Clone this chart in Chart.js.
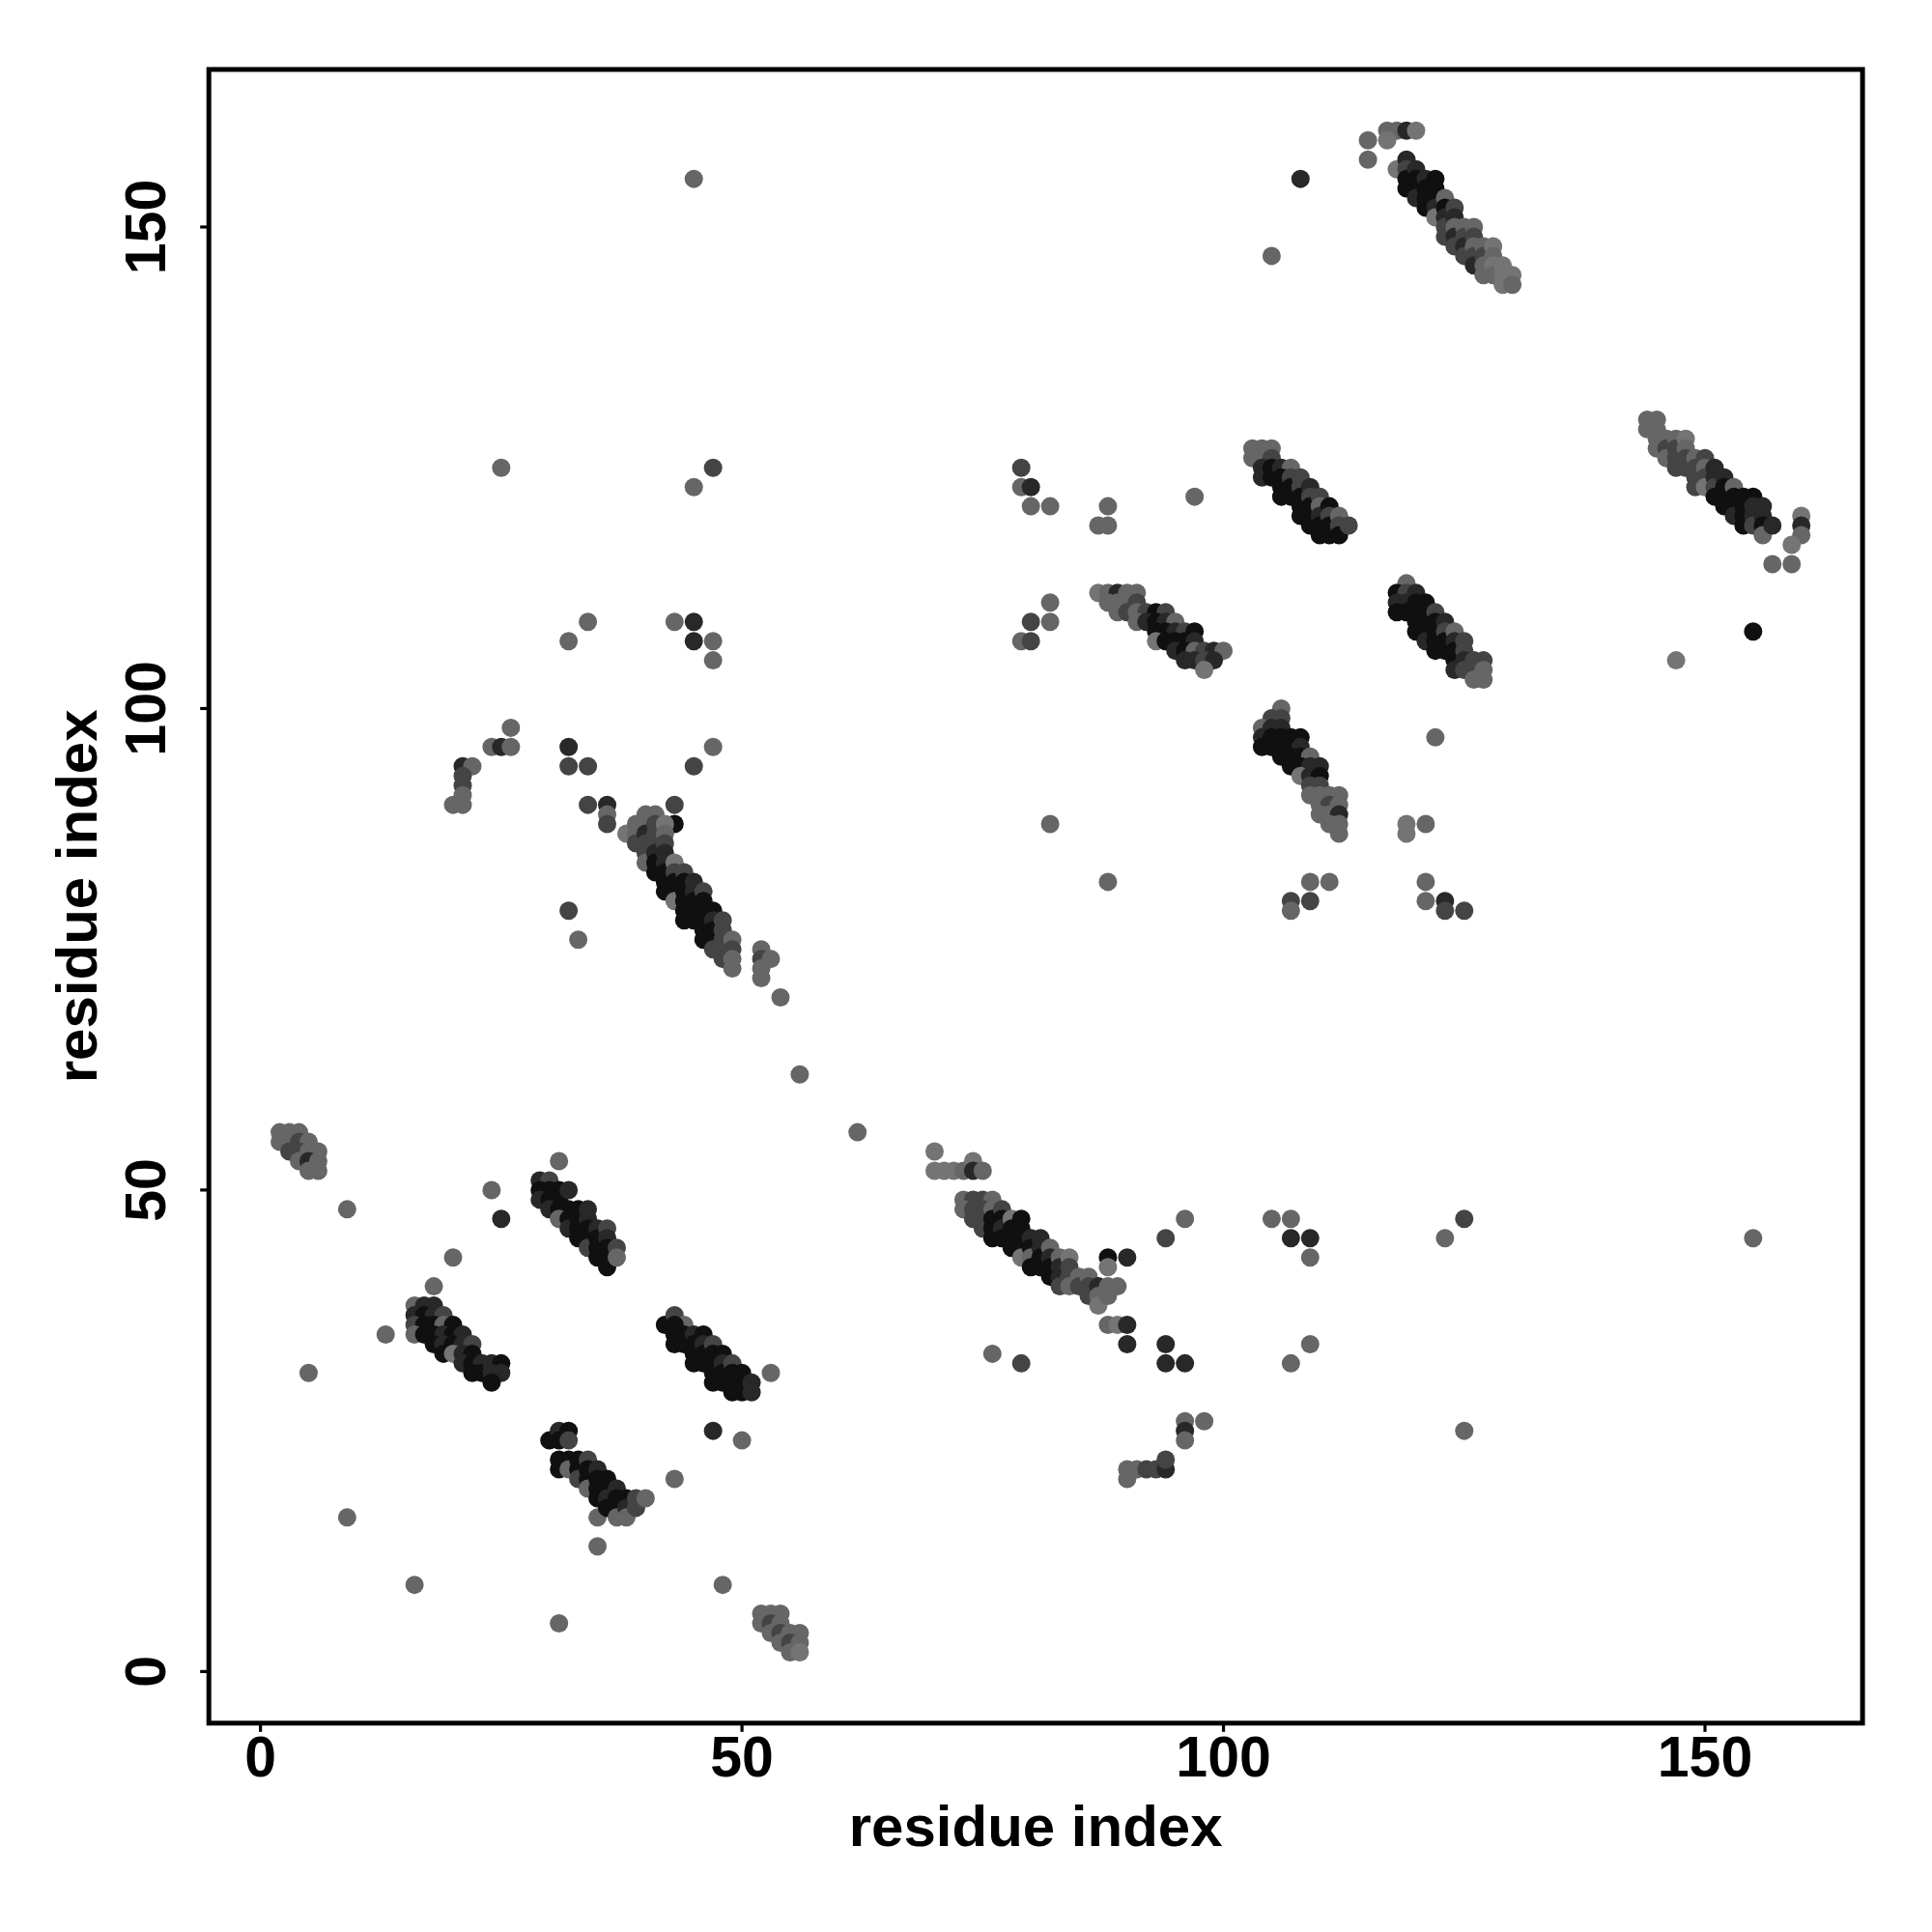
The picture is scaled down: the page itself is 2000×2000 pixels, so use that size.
<!DOCTYPE html>
<html>
<head>
<meta charset="utf-8">
<script src="https://cdn.jsdelivr.net/npm/chart.js@4.4.1/dist/chart.umd.min.js"></script>
<style>
  html, body { margin: 0; padding: 0; background: #fff; }
  #wrap { width: 2000px; height: 2000px; }
</style>
</head>
<body>
<div id="wrap"><canvas id="contact-map" width="2000" height="2000"></canvas></div>
<script>
// contacts as [residue i, residue j, shade]; shade 0 = darkest .. 4 = lightest grey

const bandTop = [
  [115,159,3],[115,157,3],[117,160,3],[118,160,3],[119,160,1],[120,160,4],[117,159,4],
  [118,156,4],[119,157,1],[119,156,2],[119,155,0],[119,154,0],
  [120,156,1],[120,155,0],[120,154,0],[120,153,1],
  [121,155,1],[121,154,0],[121,153,0],[121,152,0],
  [122,155,0],[122,154,0],[122,153,0],[122,152,1],[122,151,4],
  [123,153,3],[123,152,0],[123,151,1],[123,150,2],[123,149,2],
  [124,152,2],[124,151,1],[124,150,3],[124,149,1],[124,148,2],
  [125,150,3],[125,149,2],[125,148,1],[125,147,2],
  [126,150,3],[126,149,2],[126,148,3],[126,147,2],[126,146,1],
  [127,148,3],[127,147,2],[127,146,3],[127,145,3],
  [128,148,4],[128,147,3],[128,146,4],[128,145,3],
  [129,146,4],[129,145,4],[129,144,4],
  [130,145,4],[130,144,3]
];

const sparseTop = [[108,155,1],[105,147,3],[45,155,3]];

const bandRight = [
  [144,130,3],[144,129,3],[145,130,3],[145,129,3],[145,128,3],[145,127,3],
  [146,128,3],[146,127,2],[146,126,3],
  [147,128,3],[147,127,2],[147,126,2],[147,125,2],
  [148,128,4],[148,127,3],[148,126,2],[148,125,2],
  [149,126,3],[149,125,2],[149,124,2],[149,123,2],
  [150,126,2],[150,125,3],[150,124,2],[150,123,4],
  [151,125,1],[151,124,1],[151,123,2],[151,122,0],
  [152,124,1],[152,123,0],[152,122,0],[152,121,0],
  [153,123,3],[153,122,0],[153,121,0],[153,120,1],
  [154,122,0],[154,121,0],[154,120,0],[154,119,0],
  [155,122,0],[155,121,1],[155,120,1],[155,119,2],
  [156,121,1],[156,120,1],[156,119,0],[156,118,3],
  [157,119,1],
  [160,120,4],[160,119,1],[160,118,3],[159,117,4],[157,115,3],[159,115,3],
  [155,108,0],[147,105,4]
];

const bandUpperMid = [
  [103,127,3],[104,127,3],[105,127,3],[103,126,3],[104,126,3],[105,126,2],
  [104,125,1],[104,124,1],[105,125,0],[105,124,0],
  [106,125,1],[107,125,3],[106,124,0],[106,123,0],[106,122,0],[107,124,2],[107,123,0],[107,122,0],
  [108,124,2],[108,123,2],[108,122,0],[108,121,0],[108,120,0],
  [109,123,1],[109,122,2],[109,121,0],[109,120,0],[109,119,0],
  [110,122,2],[110,121,3],[110,120,1],[110,119,0],[110,118,0],
  [111,121,0],[111,120,2],[111,119,0],[111,118,0],
  [112,120,3],[112,119,2],[112,118,0],
  [113,119,2],
  [79,125,2],[79,123,3],[80,123,1],[80,121,3],[82,121,3],[88,121,3],[87,119,3],[88,119,3],[97,122,3]
];

const bandMid = [
  [87,112,4],[88,112,3],[89,112,1],[90,112,3],[91,112,3],
  [88,111,3],[89,111,3],[90,111,3],[91,111,2],
  [89,110,3],[90,110,2],[91,110,3],[92,110,2],[93,110,0],[94,110,2],
  [91,109,3],[92,109,1],[93,109,0],[94,109,1],[95,109,3],
  [93,108,0],[94,108,0],[95,108,1],[96,108,2],[97,108,0],
  [93,107,4],[94,107,0],[95,107,0],[96,107,0],[97,107,1],
  [95,106,1],[96,106,0],[97,106,3],[98,106,2],[99,106,1],[100,106,3],
  [96,105,1],[97,105,1],[98,105,2],[99,105,1],
  [98,104,4],
  [82,111,3],[80,109,2],[82,109,3],[79,107,3],[80,107,2]
];

const bandMidRight = [
  [119,113,3],[118,112,0],[119,112,2],[118,111,1],[119,111,1],[118,110,0],[119,110,0],
  [120,112,1],[120,111,0],[120,110,0],[120,109,0],[120,108,0],
  [121,111,0],[121,110,0],[121,109,0],[121,108,0],[121,107,1],
  [122,110,2],[122,109,0],[122,108,0],[122,107,0],[122,106,0],
  [123,109,1],[123,108,2],[123,107,0],[123,106,0],
  [124,108,3],[124,107,1],[124,106,0],[124,105,0],[124,104,1],
  [125,107,2],[125,106,2],[125,105,1],[125,104,2],
  [126,105,2],[126,104,2],[126,103,3],
  [127,105,2],[127,104,3],[127,103,3],
  [122,97,3]
];

const bandSteep = [
  [106,100,3],[105,99,2],[106,99,2],[104,98,3],[105,98,1],[106,98,1],
  [104,97,1],[105,97,0],[106,97,0],[107,97,0],[108,97,0],
  [104,96,0],[105,96,0],[106,96,0],[107,96,0],[108,96,1],
  [106,95,0],[107,95,0],[108,95,0],[109,95,3],
  [107,94,0],[108,94,0],[109,94,1],[110,94,1],
  [108,93,4],[109,93,1],[110,93,0],
  [109,92,2],[110,92,2],[109,91,3],[110,91,3],[111,91,3],[112,91,3],
  [110,90,3],[111,90,2],[112,90,3],
  [110,89,3],[111,89,3],[112,89,1],
  [111,88,3],[112,88,3],[112,87,3],
  [119,88,4],[119,87,4],[121,88,3],[109,82,3],[111,82,3],[107,80,2],[109,80,2],[107,79,3],
  [121,82,3],[121,80,3],[123,80,1],[123,79,2],[125,79,2],[82,88,3],[88,82,3]
];

const sparseLeft = [
  [25,125,3],[47,125,2],[45,123,3],
  [34,109,3],[32,107,3],[43,109,3],[45,109,1],[45,107,1],[47,107,3],[47,105,3],
  [26,98,3],[24,96,3],[25,96,1],[26,96,3],[21,94,1],[22,94,3],[21,93,2],[21,92,2],[21,91,3],[20,90,3],[21,90,3],
  [32,96,1],[32,94,2],[34,94,2],[47,96,3],[45,94,2],
  [34,90,2],[36,90,1],[36,89,3],[36,88,2],[43,90,2],[43,88,0],
  [32,79,2],[33,76,3],
  [52,75,3],[52,74,2],[53,74,3],[52,73,3],[52,72,3],[54,70,3],[56,62,3],[62,56,3]
];

const bandLeft = [
  [38,87,4],
  [39,88,3],[39,87,3],[39,86,2],
  [40,89,3],[40,88,3],[40,87,1],[40,86,2],[40,85,2],[40,84,3],
  [41,89,3],[41,88,2],[41,87,2],[41,86,2],[41,85,1],[41,84,0],[41,83,0],
  [42,88,4],[42,87,3],[42,86,2],[42,85,1],[42,84,1],[42,83,0],[42,82,0],[42,81,0],
  [43,84,4],[43,83,2],[43,82,0],[43,81,0],[43,80,4],
  [44,83,2],[44,82,0],[44,81,0],[44,80,0],[44,79,0],[44,78,0],
  [45,82,1],[45,81,1],[45,80,0],[45,79,0],[45,78,0],
  [46,81,2],[46,80,0],[46,79,0],[46,78,0],[46,77,0],[46,76,0],
  [47,79,0],[47,78,1],[47,77,0],[47,76,0],[47,75,2],
  [48,78,2],[48,77,2],[48,76,2],[48,75,2],[48,74,2],
  [49,76,3],[49,75,2],[49,74,3],[49,73,3]
];

const cornerLow = [
  [2,56,3],[3,56,3],[4,56,3],[2,55,3],[3,55,3],[4,55,2],[5,55,3],[3,54,2],[4,54,2],[5,54,3],[6,54,3],
  [4,53,3],[5,53,1],[6,53,3],[5,52,3],[6,52,3],
  [9,48,3],[5,31,3],[24,50,3],[25,47,1],[20,43,3],[18,40,3],[13,35,3],[9,16,3],[16,9,3],[31,5,3],[48,9,3]
];

const bandLow1 = [
  [16,38,3],[17,38,1],[18,38,1],
  [16,37,1],[17,37,0],[18,37,1],[19,37,2],
  [16,36,2],[17,36,0],[18,36,0],[19,36,3],[20,36,0],
  [16,35,3],[17,35,0],[18,35,0],[19,35,1],[20,35,0],[21,35,1],
  [18,34,0],[19,34,1],[20,34,0],[21,34,1],[22,34,2],
  [19,33,0],[20,33,4],[21,33,1],[22,33,0],
  [21,32,1],[22,32,0],[23,32,1],
  [22,31,0],[23,31,0],[24,32,1],[25,32,0],
  [24,31,1],[25,31,1],[24,30,0]
];

const bandLow2 = [
  [29,51,1],[30,51,2],[29,50,0],[30,50,0],[31,50,0],[29,49,1],[30,49,0],[31,49,0],[32,50,1],
  [30,48,1],[31,48,0],[32,48,0],[31,47,3],[32,47,0],[33,48,0],
  [32,46,1],[33,47,0],[33,46,0],[33,45,0],[34,48,1],[34,47,1],[34,46,0],[34,45,0],[34,44,2],
  [35,46,1],[35,45,0],[35,44,0],[35,43,0],
  [36,46,2],[36,45,1],[36,44,0],[36,43,0],[36,42,0],
  [37,44,2],[37,43,3],
  [31,53,3]
];

const bandLow3 = [
  [42,36,0],[43,37,2],[44,36,3],[43,36,0],[43,35,0],[44,35,0],[43,34,0],[44,34,0],[45,35,1],
  [45,34,0],[46,35,0],[45,33,0],[46,34,1],[46,33,0],[45,32,0],[46,32,0],[47,34,2],[47,33,0],
  [47,32,0],[48,33,0],[47,31,0],[48,32,1],[48,31,0],[47,30,0],[48,30,0],[49,32,2],[49,31,0],
  [49,30,0],[50,31,0],[49,29,0],[50,30,0],[50,29,0],[51,30,1],[51,29,1],
  [53,31,3],[47,25,1],[50,24,3]
];

const bandLow4 = [
  [30,24,0],[31,25,1],[31,24,0],[32,25,0],[32,24,2],
  [31,22,0],[32,22,0],[31,21,0],[32,21,3],[33,22,0],[33,21,0],[33,20,2],
  [34,22,2],[34,21,0],[34,20,0],[34,19,3],
  [35,21,1],[35,20,0],[35,19,0],[35,18,0],[35,16,3],
  [36,20,0],[36,19,0],[36,18,1],[36,17,0],
  [37,19,1],[37,18,0],[37,17,0],[37,16,3],
  [38,18,0],[38,17,1],[38,16,3],
  [39,18,2],[39,17,2],
  [35,13,3],[40,18,3],[43,20,3]
];

const clusterBottom = [
  [52,6,3],[53,6,3],[54,6,3],[52,5,3],[53,5,2],[54,5,3],[53,4,3],[54,4,2],[55,4,3],[56,4,3],
  [54,3,3],[55,3,2],[56,3,3],[55,2,3],[56,2,4]
];

const bandCentre = [
  [70,54,4],[70,52,4],[71,52,4],[72,52,4],[73,52,3],[74,53,4],[74,52,1],[75,52,3],
  [73,49,3],[74,49,2],[75,49,2],[76,49,3],
  [73,48,3],[74,48,2],[75,48,2],[74,47,2],[75,47,2],[76,48,3],
  [75,46,2],[76,47,0],[76,46,0],[76,45,0],[77,48,2],[77,47,0],[77,46,1],[77,45,0],
  [78,47,4],[78,46,0],[78,45,0],[78,44,0],
  [79,47,0],[79,46,0],[79,45,0],[79,44,0],[79,43,4],
  [80,45,1],[80,44,0],[80,43,3],[80,42,0],
  [81,45,1],[81,44,1],[81,43,0],[81,42,0],
  [82,44,3],[82,43,1],[82,42,0],[82,41,0],
  [83,43,3],[83,42,1],[83,41,1],[83,40,2],
  [84,43,4],[84,42,2],[84,41,2],[84,40,3],
  [85,41,3],[85,40,2],
  [86,41,3],[86,40,2],[86,39,2],
  [87,40,1],[87,39,3],[87,38,4],
  [88,43,0],[88,42,4],[88,40,3],[88,39,3],[89,40,3],[90,43,1],
  [88,36,3],[89,36,4],[90,36,1],[90,34,1],[94,34,1],[94,32,1],[96,32,1],[76,33,3],[79,32,2],
  [96,47,3],[94,45,2],[96,26,3],[98,26,3],[96,25,1],[96,24,3],
  [90,21,3],[90,20,3],[91,21,3],[92,21,2],[93,21,2],[94,21,1],[94,22,2]
];

const sparseRight = [
  [105,47,3],[107,47,3],[107,45,1],[109,45,1],[109,43,3],[109,34,3],[107,32,3],
  [123,45,3],[125,47,2],[125,25,3],[155,45,3]
];

const tickValues = [0, 50, 100, 150];
const xTitle = 'residue index';
const yTitle = 'residue index';

const greyLevels = [16, 40, 68, 102, 116];
const shadeColor = s => `rgb(${greyLevels[s]},${greyLevels[s]},${greyLevels[s]})`;

const contacts = [
  bandTop, sparseTop, bandRight, bandUpperMid, bandMid, bandMidRight, bandSteep,
  sparseLeft, bandLeft, cornerLow, bandLow1, bandLow2, bandLow3, bandLow4,
  clusterBottom, bandCentre, sparseRight
].flat();

const FONT = '"Liberation Sans", Arial, Helvetica, sans-serif';

// frame, ticks and labels drawn R-style around the plot region
const framePlugin = {
  id: 'frame',
  afterDraw(chart) {
    const { ctx, chartArea: a, scales } = chart;
    ctx.save();
    ctx.strokeStyle = '#000';
    ctx.lineWidth = 5;
    ctx.strokeRect(a.left, a.top, a.right - a.left, a.bottom - a.top);

    ctx.lineWidth = 3.2;
    ctx.fillStyle = '#000';
    ctx.font = `bold 59px ${FONT}`;
    tickValues.forEach(v => {
      const px = scales.x.getPixelForValue(v);
      ctx.beginPath();
      ctx.moveTo(px, a.bottom);
      ctx.lineTo(px, a.bottom + 9);
      ctx.stroke();
      ctx.textAlign = 'center';
      ctx.textBaseline = 'alphabetic';
      ctx.fillText(String(v), px, 1839);

      const py = scales.y.getPixelForValue(v);
      ctx.beginPath();
      ctx.moveTo(a.left, py);
      ctx.lineTo(a.left - 9, py);
      ctx.stroke();
      ctx.save();
      ctx.translate(171, py);
      ctx.rotate(-Math.PI / 2);
      ctx.fillText(String(v), 0, 0);
      ctx.restore();
    });

    ctx.font = `bold 60px ${FONT}`;
    ctx.textAlign = 'center';
    ctx.textBaseline = 'alphabetic';
    ctx.fillText(xTitle, (a.left + a.right) / 2, 1911);
    ctx.save();
    ctx.translate(100, (a.top + a.bottom) / 2);
    ctx.rotate(-Math.PI / 2);
    ctx.fillText(yTitle, 0, 0);
    ctx.restore();
    ctx.restore();
  }
};

const canvas = document.getElementById('contact-map');
new Chart(canvas.getContext('2d'), {
  type: 'scatter',
  data: {
    datasets: [{
      data: contacts.map(c => ({ x: c[0], y: c[1] })),
      pointBackgroundColor: contacts.map(c => shadeColor(c[2])),
      pointBorderWidth: 0,
      pointRadius: 9.5,
      pointHoverRadius: 9.5,
    }]
  },
  options: {
    responsive: false,
    animation: false,
    events: [],
    layout: { padding: { left: 216.2, right: 71.9, top: 71.9, bottom: 216.2 } },
    scales: {
      x: { type: 'linear', min: -5.36, max: 166.36, display: false },
      y: { type: 'linear', min: -5.36, max: 166.36, display: false },
    },
    plugins: {
      legend: { display: false },
      tooltip: { enabled: false },
    },
  },
  plugins: [framePlugin],
});
</script>
</body>
</html>
